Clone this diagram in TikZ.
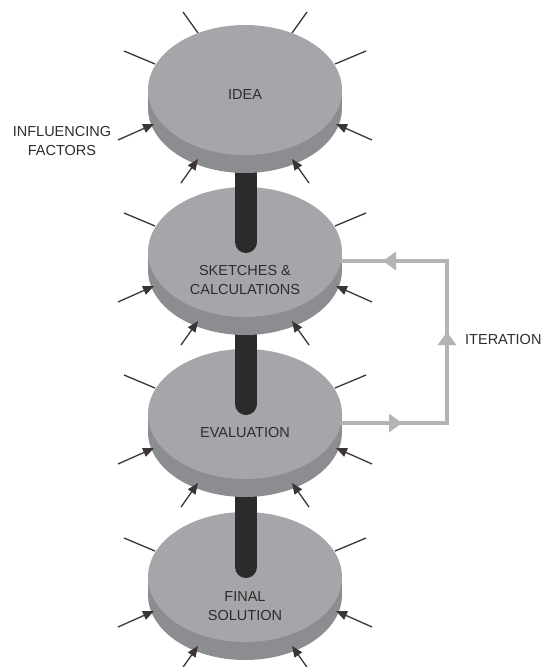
\documentclass[tikz,border=0pt]{standalone}
\usepackage{fontspec}
\setmainfont{Liberation Sans}
\usetikzlibrary{arrows.meta,decorations.markings}
\definecolor{topc}{HTML}{A5A6A9}
\definecolor{sidec}{HTML}{8C8D90}
\definecolor{polec}{HTML}{2B2B2B}
\definecolor{linec}{HTML}{3B3535}
\definecolor{loopc}{HTML}{B3B4B6}
\definecolor{textc}{HTML}{2D2D2D}
\tikzset{
  factor/.style={draw=linec, line width=1.3pt},
  inarrow/.style={factor, -{Triangle[length=11pt,width=9pt]}},
  lbl/.style={font=\fontsize{14.5}{19}\selectfont, text=textc, align=center, inner sep=0pt},
  polepart/.style={fill=polec},
  loopline/.style={draw=loopc, line width=4.5pt, line join=miter},
  pics/disk/.style={code={
    \draw[factor] (-121,26) -- (-90,39);
    \draw[factor] (121,26) -- (90,39);
    \fill[sidec] (0,83) ellipse [x radius=97pt, y radius=65pt];
    \fill[sidec] (-97,65) rectangle (97,83);
    \fill[topc] (0,65) ellipse [x radius=97pt, y radius=65pt];
    \draw[inarrow] (-127,115) -- (-91,99);
    \draw[inarrow] (127,115) -- (91,99);
    \draw[inarrow] (-64,158) -- (-47,134);
    \draw[inarrow] (64,158) -- (47,134);
    \coordinate (-r) at (95,74);
  }}
}
\begin{document}
\begin{tikzpicture}[x=1pt,y=-1pt]
\useasboundingbox (0,0) rectangle (544,667);
\fill[white] (0,0) rectangle (544,667);
% disks from bottom to top with poles
\pic (d4) at (245,512) {disk};
\fill[polepart] (235,469) rectangle (257,567);
\fill[polepart] (246,567) circle[radius=11pt];
\pic (d3) at (245,349) {disk};
\fill[polepart] (235,307) rectangle (257,404);
\fill[polepart] (246,404) circle[radius=11pt];
\pic (d2) at (245,187) {disk};
\fill[polepart] (235,145) rectangle (257,242);
\fill[polepart] (246,242) circle[radius=11pt];
% top lines of the first disk
\draw[factor] (183,12) -- (198,33);
\draw[factor] (307,12) -- (292,33);
\pic (d1) at (245,25) {disk};
% labels
\node[lbl] (idea) at (245,95) {IDEA};
\node[lbl] (sketch) at (245,280) {SKETCHES \&\\CALCULATIONS};
\node[lbl] (eval) at (245,433) {EVALUATION};
\node[lbl] (final) at (245,606) {FINAL\\SOLUTION};
\node[lbl] (infl) at (62,141) {INFLUENCING\\FACTORS};
\node[lbl, anchor=west] (iter) at (465,340) {ITERATION};
% iteration loop
\coordinate (lb) at (447,423);
\coordinate (lt) at (447,261);
\draw[loopline, postaction={decorate}, decoration={markings,
  mark=at position 62pt with {\arrow[loopc]{Triangle[length=13pt,width=18pt]}},
  mark=at position 198pt with {\arrow[loopc]{Triangle[length=13pt,width=18pt]}},
  mark=at position 333pt with {\arrow[loopc]{Triangle[length=13pt,width=18pt]}}}]
  (d3-r) -- (lb) -- (lt) -- (d2-r);
\end{tikzpicture}
\end{document}
